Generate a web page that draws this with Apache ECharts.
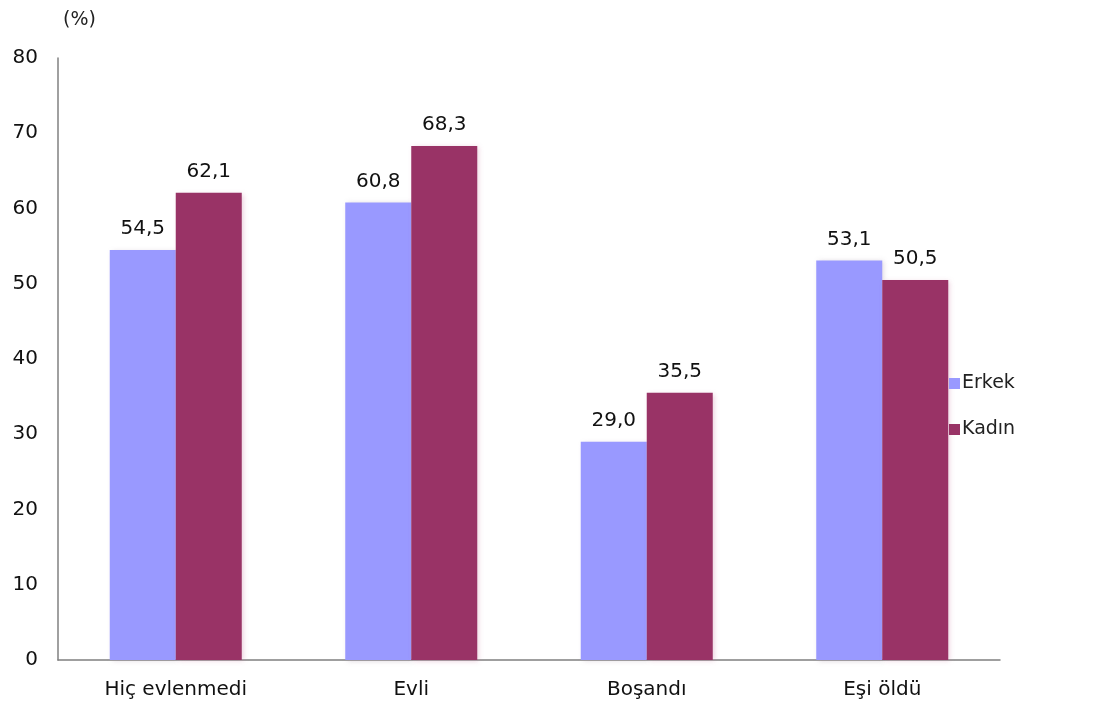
<!DOCTYPE html>
<html><head><meta charset="utf-8">
<script src="https://cdn.jsdelivr.net/npm/echarts@6/dist/echarts.min.js"></script>
<style>html,body{margin:0;padding:0;background:#fff}#c{width:1118px;height:707px}</style>
</head><body><div id="c"></div>
<script>
const categories = ['Hiç evlenmedi', 'Evli', 'Boşandı', 'Eşi öldü'];
const erkek = [54.5, 60.8, 29.0, 53.1];
const kadin = [62.1, 68.3, 35.5, 50.5];
const yTicks = [0, 10, 20, 30, 40, 50, 60, 70, 80];

const fmt = p => p.value.toFixed(1).replace('.', ',');
const font = '"DejaVu Sans", Verdana, sans-serif';
const chart = echarts.init(document.getElementById('c'));
chart.setOption({
  animation: false,
  textStyle: { fontFamily: font },
  grid: { left: 58, right: 118, top: 58, bottom: 47 },
  graphic: [{ type: 'text', left: 63, top: 11, style: { text: '(%)', font: '19px ' + font, fill: '#222' } }],
  legend: {
    orient: 'vertical', left: 944, top: 369, itemGap: 27,
    itemWidth: 11, itemHeight: 11, icon: 'rect',
    textStyle: { fontSize: 19, color: '#222', padding: [0, 0, 0, -3] },
    data: ['Erkek', 'Kadın']
  },
  xAxis: {
    type: 'category', data: categories,
    axisLine: { lineStyle: { color: '#808080', width: 1.5 } },
    axisTick: { show: false },
    axisLabel: { fontSize: 20, color: '#111', margin: 20 }
  },
  yAxis: {
    type: 'value', min: yTicks[0], max: yTicks[yTicks.length - 1], interval: 10,
    axisLine: { show: true, lineStyle: { color: '#808080', width: 1.5 } },
    axisTick: { show: false },
    splitLine: { show: false },
    axisLabel: { fontSize: 20, color: '#111', margin: 20, align: 'right' }
  },
  series: [
    { name: 'Erkek', type: 'bar', data: erkek, barWidth: 66, barGap: '0%',
      itemStyle: { color: '#9999FF', shadowColor: 'rgba(160,140,160,0.35)', shadowBlur: 5, shadowOffsetX: 2, shadowOffsetY: 1 },
      label: { show: true, position: 'top', distance: 11, fontSize: 20, color: '#111', formatter: fmt } },
    { name: 'Kadın', type: 'bar', data: kadin, barWidth: 66, barGap: '0%',
      itemStyle: { color: '#993366', shadowColor: 'rgba(200,120,160,0.35)', shadowBlur: 5, shadowOffsetX: 2, shadowOffsetY: 1 },
      label: { show: true, position: 'top', distance: 11, fontSize: 20, color: '#111', formatter: fmt } }
  ]
});
</script></body></html>
